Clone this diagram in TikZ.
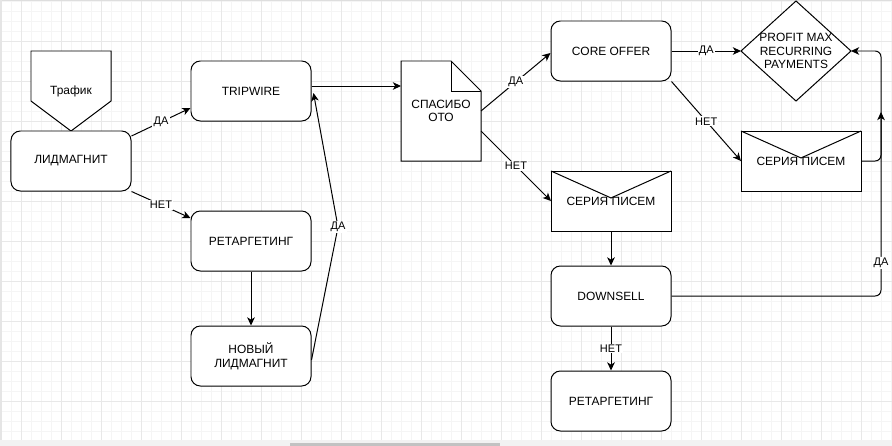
\documentclass[tikz,border=0pt]{standalone}
\usepackage{fontspec}
\setmainfont{Liberation Sans}
\usetikzlibrary{arrows.meta,calc}

\begin{document}
\begin{tikzpicture}[x=0.03cm,y=-0.03cm,line width=0.85pt,
  font=\fontsize{10.2}{11.6}\selectfont,
  >={Stealth[length=7pt,width=6.5pt,inset=2pt]},
  gridfine/.style={line width=0.85pt,color=black!4},
  gridbold/.style={line width=0.85pt,color=black!9},
  box/.style={draw,fill=white,rounded corners=8pt,minimum width=3.6cm,minimum height=1.8cm,align=center},
  lbl/.style={fill=white,inner sep=1pt,font=\fontsize{9.4}{10}\selectfont},
  tag/.style={outer sep=0pt,minimum width=2.4cm,minimum height=2.4cm,
    append after command={%
      \pgfextra{
        \filldraw[fill=white] (\tikzlastnode.south) -- ([yshift=0.9cm]\tikzlastnode.south west) -- (\tikzlastnode.north west)
          -- (\tikzlastnode.north east) -- ([yshift=0.9cm]\tikzlastnode.south east) -- cycle;
      }
    }
  },
  page/.style={outer sep=0pt,minimum width=2.4cm,minimum height=3cm,align=center,
    append after command={%
      \pgfextra{
        \filldraw[fill=white] (\tikzlastnode.south west) -- (\tikzlastnode.north west) -- ([xshift=-0.9cm]\tikzlastnode.north east)
          -- ([yshift=-0.9cm]\tikzlastnode.north east) -- (\tikzlastnode.south east) -- cycle;
        \draw ([xshift=-0.9cm]\tikzlastnode.north east) -- ([xshift=-0.9cm,yshift=-0.9cm]\tikzlastnode.north east)
          -- ([yshift=-0.9cm]\tikzlastnode.north east);
      }
    }
  },
  letter/.style={outer sep=0pt,minimum width=3.6cm,minimum height=1.8cm,align=center,
    append after command={%
      \pgfextra{
        \filldraw[fill=white] (\tikzlastnode.south west) rectangle (\tikzlastnode.north east);
        \draw (\tikzlastnode.north west) -- ([yshift=2.6pt]\tikzlastnode.center) -- (\tikzlastnode.north east);
      }
    }
  },
  choice/.style={outer sep=0pt,minimum width=3.3cm,minimum height=3cm,align=center,
    append after command={%
      \pgfextra{
        \filldraw[fill=white] (\tikzlastnode.north) -- (\tikzlastnode.east) -- (\tikzlastnode.south) -- (\tikzlastnode.west) -- cycle;
      }
    }
  }
]
\useasboundingbox (0,0) rectangle (892,446);
% grid
\foreach \i in {0,...,89} \draw[gridfine] (1.5+10*\i,0) -- (1.5+10*\i,446);
\foreach \i in {0,...,44} \draw[gridfine] (0,1+10*\i) -- (892,1+10*\i);
\foreach \i in {0,...,21} \draw[gridbold] (21.5+40*\i,0) -- (21.5+40*\i,446);
\foreach \i in {1,...,11} \draw[gridbold] (0,1+40*\i) -- (892,1+40*\i);
\fill[black!13] (0,0) rectangle (892,1.3);
\fill[black!10] (0,0) rectangle (1.7,446);
\fill[black!5] (0,440) rectangle (892,446);
\fill[black!24] (290,442.6) rectangle (500,446);

% left part
\node[tag] (traf) at (71,91) {Трафик};
\node[box] (lm) at (71,161) {ЛИДМАГНИТ};
\node[box] (tw) at (251,91) {TRIPWIRE};
\node[box] (ret1) at (251,241) {РЕТАРГЕТИНГ};
\node[box] (nlm) at (251,356) {НОВЫЙ\\ЛИДМАГНИТ};
\coordinate (bend) at (338,227);

% right part
\node[page] (oto) at (441,111) {СПАСИБО\\ОТО};
\node[box] (core) at (611,51) {CORE OFFER};
\node[letter] (mail1) at (611,201) {СЕРИЯ ПИСЕМ};
\node[choice] (prof) at (796,51) {PROFIT MAX\\RECURRING\\PAYMENTS};
\node[letter] (mail2) at (801,161) {СЕРИЯ ПИСЕМ};
\node[box] (down) at (611,296) {DOWNSELL};
\node[box] (ret2) at (611,401) {РЕТАРГЕТИНГ};
\coordinate (j) at (881,112);

\draw[->] ($(lm.east)+(0,-25)$) -- node[lbl]{ДА} ($(tw.west)+(0,17)$);
\draw[->] (lm.south east) -- node[lbl]{НЕТ} ($(ret1.west)+(0,-23)$);
\draw[->] (ret1.south) -- (nlm.north);
\draw[->] ($(nlm.east)+(0,4)$) -- (bend) node[lbl]{ДА} -- ($(tw.east)+(2,2)$);
\draw[->] ($(tw.east)+(0,-5)$) -- ($(oto.west)+(0,-25)$);
\draw[->] (oto.east) -- node[lbl]{ДА} ($(core.west)+(0,2)$);
\draw[->] ($(oto.east)+(0,20)$) -- node[lbl]{НЕТ} (mail1.west);
\draw[->] (core.east) -- node[lbl]{ДА} (prof.west);
\draw[->] (core.south east) -- node[lbl]{НЕТ} (mail2.west);
\draw[->] (mail1.south) -- (down.north);
\draw[->] (down.south) -- node[lbl]{НЕТ} (ret2.north);
\draw[->,rounded corners=5pt] (down.east) -| node[lbl,pos=0.59]{ДА} (j);
\draw[->,rounded corners=5pt] (mail2.east) -- (mail2.east -| j) |- (prof.east);
\end{tikzpicture}
\end{document}
